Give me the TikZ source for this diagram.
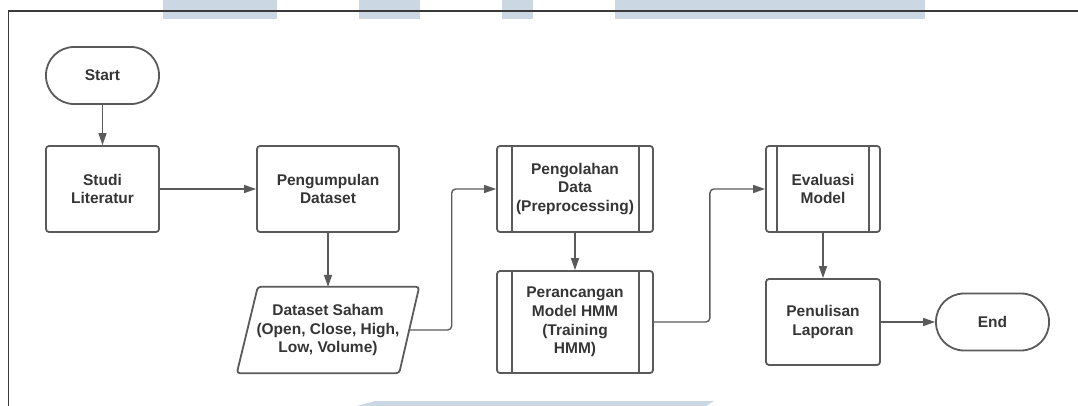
\documentclass[tikz,border=0pt]{standalone}
\usepackage{fontspec}
\setmainfont{Liberation Sans}
\usetikzlibrary{arrows.meta,calc}
\definecolor{ln}{HTML}{5A5A5A}
\definecolor{tx}{HTML}{353535}
\definecolor{wm}{HTML}{CBD8E3}
\definecolor{fr}{HTML}{3A3A3A}
\tikzset{
  box/.style={draw=ln, line width=1.8pt, rounded corners=3pt, minimum width=#1, inner sep=0pt, align=center, text=tx, font=\fontsize{15.5}{18.7}\selectfont\bfseries},
  term/.style={draw=ln, line width=1.8pt, rounded corners=28pt, minimum width=113pt, minimum height=57pt, inner sep=0pt, align=center, text=tx, font=\fontsize{15.5}{18.7}\selectfont\bfseries},
  conn/.style={draw=ln, line width=1.4pt, -{Triangle[length=12pt,width=8pt]}, rounded corners=4pt},
  inner/.style={draw=ln, line width=1.8pt},
}
\begin{document}
\begin{tikzpicture}[x=1pt,y=-1pt]
\useasboundingbox (0,0) rectangle (1078,406);
% watermark
\fill[wm] (163,0) rectangle (277,19);
\fill[wm] (359,0) rectangle (420,19);
\fill[wm] (502,0) rectangle (533,19);
\fill[wm] (615,0) rectangle (925,19);
\fill[wm] (375,401) -- (714,401) -- (706,406) -- (357,406) -- cycle;
% frame
\draw[fr, line width=1.4pt] (8.6,406) -- (8.6,11) -- (1078,11);
% nodes
\node[term] (st) at (102.5,75.5) {Start};
\node[box=113pt, minimum height=86pt] (sl) at (102.5,189) {Studi\\Literatur};
\node[box=142pt, minimum height=86pt] (pd) at (328,189) {Pengumpulan\\Dataset};
\node[minimum width=182pt, minimum height=86pt, inner sep=0pt, align=center, text=tx, font=\fontsize{15.5}{18.7}\selectfont\bfseries] (ds) at (328,330) {Dataset Saham\\(Open, Close, High,\\Low, Volume)};
\draw[ln, line width=1.8pt, rounded corners=3pt] ([xshift=21pt]ds.north west) -- (ds.north east) -- ([xshift=-20pt]ds.south east) -- (ds.south west) -- cycle;
\coordinate (dsr) at ([xshift=-10.5pt]ds.east);
\node[box=156pt, minimum height=86pt] (pp) at (575,189) {Pengolahan\\Data\\(Preprocessing)};
\draw[inner] ([xshift=16pt]pp.north west) -- ([xshift=16pt]pp.south west);
\draw[inner] ([xshift=-15pt]pp.north east) -- ([xshift=-15pt]pp.south east);
\node[box=156pt, minimum height=102pt] (pm) at (575,322) {Perancangan\\Model HMM\\(Training\\HMM)};
\draw[inner] ([xshift=16pt]pm.north west) -- ([xshift=16pt]pm.south west);
\draw[inner] ([xshift=-15pt]pm.north east) -- ([xshift=-15pt]pm.south east);
\node[box=114pt, minimum height=86pt] (ev) at (823,189) {Evaluasi\\Model};
\draw[inner] ([xshift=12pt]ev.north west) -- ([xshift=12pt]ev.south west);
\draw[inner] ([xshift=-12pt]ev.north east) -- ([xshift=-12pt]ev.south east);
\node[box=114pt, minimum height=86pt] (pl) at (823,322) {Penulisan\\Laporan};
\node[term] (en) at (992.5,322) {End};
% connectors
\draw[conn] (st) -- (sl);
\draw[conn] (sl) -- (pd);
\draw[conn] (pd) -- (ds);
\draw[conn] (dsr) -- ++(43,0) |- (pp.west);
\draw[conn] (pp) -- (pm);
\draw[conn] (pm.east) -- ++(56,0) |- (ev.west);
\draw[conn] (ev) -- (pl);
\draw[conn] (pl) -- (en);
\end{tikzpicture}
\end{document}
